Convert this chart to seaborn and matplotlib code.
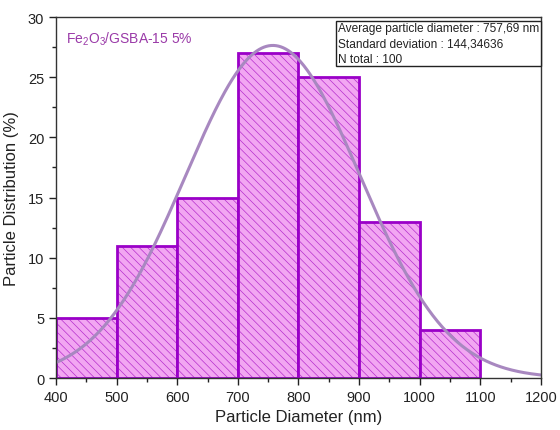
import numpy as np
import pandas as pd
import matplotlib
matplotlib.use("Agg")
import matplotlib.pyplot as plt
import seaborn as sns
from matplotlib.ticker import MultipleLocator

# Data
bin_edges = [400, 500, 600, 700, 800, 900, 1000, 1100]
bin_centers = [450, 550, 650, 750, 850, 950, 1050]
percent = [5, 11, 15, 27, 25, 13, 4]
mean_d = 757.69
std_d = 144.34636
n_total = 100
sample_label = "Fe$_2$O$_3$/GSBA-15 5%"
stats_text = "Average particle diameter : 757,69 nm\nStandard deviation : 144,34636\nN total : 100"

sns.set_theme(style="ticks")
plt.rcParams['font.family'] = ['Liberation Sans', 'DejaVu Sans']
plt.rcParams['mathtext.fontset'] = 'custom'
plt.rcParams['mathtext.rm'] = 'Liberation Sans'
plt.rcParams['mathtext.it'] = 'Liberation Sans'
plt.rcParams['hatch.linewidth'] = 0.5

fig = plt.figure(figsize=(5.6, 4.31), dpi=100)
ax = fig.add_axes([0.1, 0.1206, 0.866, 0.8376])

df = pd.DataFrame({"d": bin_centers, "p": percent})
sns.histplot(data=df, x="d", weights="p", bins=bin_edges, ax=ax,
             color="#f0a0f0", edgecolor="#9a00c8", linewidth=2, alpha=1)
for patch in ax.patches:
    patch.set_facecolor("#f2a6f2")
    patch.set_edgecolor("#9a00c8")
    patch.set_hatch("\\\\\\\\")
    patch.set_linewidth(2)
    patch._hatch_color = matplotlib.colors.to_rgba("#b52fcc")

# Normal fit curve from the stated parameters
xs = np.linspace(400, 1200, 400)
binw = 100
ys = n_total * binw / (np.sqrt(2 * np.pi) * std_d) * np.exp(-0.5 * ((xs - mean_d) / std_d) ** 2)
sns.lineplot(x=xs, y=ys, ax=ax, color="#a888c0", linewidth=2.2)

ax.set_xlim(400, 1200)
ax.set_ylim(0, 30)
ax.xaxis.set_major_locator(MultipleLocator(100))
ax.xaxis.set_minor_locator(MultipleLocator(50))
ax.yaxis.set_major_locator(MultipleLocator(5))
ax.yaxis.set_minor_locator(MultipleLocator(2.5))
ax.tick_params(which="major", direction="out", length=5, width=1, labelsize=10.5, colors="#222222")
ax.tick_params(which="minor", direction="out", length=3, width=1, colors="#222222")
for s in ax.spines.values():
    s.set_color("#333333")
    s.set_linewidth(1)
ax.set_xlabel("Particle Diameter (nm)", fontsize=12, color="#222222", labelpad=4)
ax.set_ylabel("Particle Distribution (%)", fontsize=12, color="#222222", labelpad=6)

ax.text(0.02, 0.965, sample_label, transform=ax.transAxes, fontsize=10,
        color="#9a3aa8", va="top", ha="left")

ax.text(0.581, 0.985, stats_text,
        transform=ax.transAxes, fontsize=8.6, color="#222222", va="top", ha="left",
        multialignment="left", linespacing=1.35,
        bbox=dict(boxstyle="square,pad=0.14", facecolor="white", edgecolor="#222222", linewidth=1))

fig.savefig("out.png", dpi=100)
